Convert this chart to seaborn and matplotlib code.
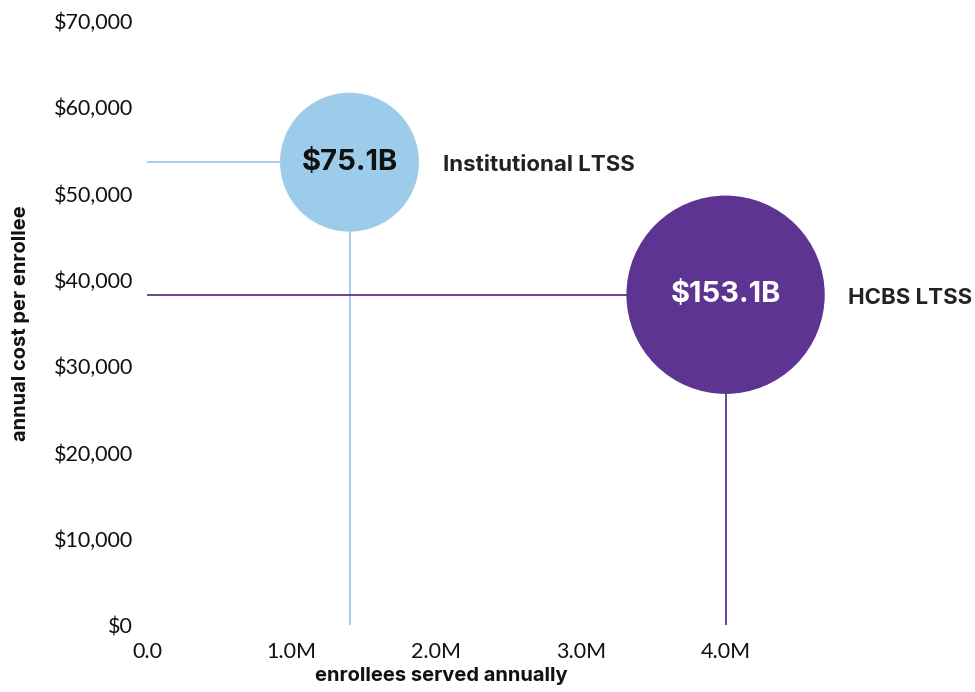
import numpy as np
import pandas as pd
import matplotlib
matplotlib.use("Agg")
import matplotlib.pyplot as plt
import seaborn as sns
from matplotlib.ticker import FuncFormatter

# Datos
programas = ["Institutional LTSS", "HCBS LTSS"]
inscritos = [1.40e6, 4.00e6]          # enrollees served annually
costo = [53640, 38275]                # annual cost per enrollee
gasto = [75.1, 153.1]                 # total spending, $B
etiquetas = ["$75.1B", "$153.1B"]
colores = {"Institutional LTSS": "#9dcbea", "HCBS LTSS": "#5e3492"}
color_texto = {"Institutional LTSS": "#111111", "HCBS LTSS": "#ffffff"}

x_ticks = [0, 1e6, 2e6, 3e6, 4e6]
x_ticklabels = ["0.0", "1.0M", "2.0M", "3.0M", "4.0M"]
y_ticks = np.arange(0, 70001, 10000)

data = pd.DataFrame({"programa": programas, "inscritos": inscritos,
                     "costo": costo, "gasto": gasto, "etiqueta": etiquetas})

sns.set_style("white")
plt.rcParams["font.family"] = ["Lato", "DejaVu Sans"]

fig = plt.figure(figsize=(9.75, 6.92), dpi=100)
ax = fig.add_axes([147 / 975, 67 / 692, 810 / 975, 604 / 692])

# Escala de burbujas: area proporcional al gasto
k = 10000 / 75.1
tam = (min(gasto) * k, max(gasto) * k)

# Lineas guia
for _, r in data.iterrows():
    ax.hlines(r.costo, 0, r.inscritos, color=colores[r.programa], lw=1.3, zorder=1)
    ax.vlines(r.inscritos, 0, r.costo, color=colores[r.programa], lw=1.3, zorder=1)

sns.scatterplot(data=data, x="inscritos", y="costo", hue="programa", palette=colores,
                size="gasto", sizes=tam, size_norm=(min(gasto), max(gasto)),
                linewidth=0, alpha=1, legend=False, ax=ax, zorder=3)

# Textos
for _, r in data.iterrows():
    radio = np.sqrt(r.gasto * k) / 2
    ax.text(r.inscritos, r.costo, r.etiqueta, ha="center", va="center",
            fontsize=21, fontweight="bold", color=color_texto[r.programa],
            family=["Inter", "DejaVu Sans"], zorder=4)
    ax.annotate(r.programa, (r.inscritos, r.costo), xytext=(radio + 17, -2),
                textcoords="offset points", ha="left", va="center",
                fontsize=16, fontweight="bold", color="#222222",
                family=["Inter", "DejaVu Sans"], annotation_clip=False)

ax.set_xlim(0, 5.6e6)
ax.set_ylim(0, 70000)
ax.set_xticks(x_ticks)
ax.set_xticklabels(x_ticklabels)
ax.set_yticks(y_ticks)
ax.yaxis.set_major_formatter(FuncFormatter(lambda v, p: f"${v:,.0f}"))
ax.tick_params(axis="both", length=0, labelsize=15.5, labelcolor="#111111")
ax.tick_params(axis="y", pad=10)
ax.tick_params(axis="x", pad=12)

ax.set_xlabel("enrollees served annually", fontsize=14.5, fontweight="bold",
              color="#111111", family=["Inter", "DejaVu Sans"])
ax.set_ylabel("annual cost per enrollee", fontsize=14.5, fontweight="bold",
              color="#111111", family=["Inter", "DejaVu Sans"])
ax.xaxis.set_label_coords(0.363, -0.07)
ax.yaxis.set_label_coords(-0.145, 0.5)

sns.despine(ax=ax, left=True, bottom=True)
ax.grid(False)

fig.savefig("out.png", dpi=100)
